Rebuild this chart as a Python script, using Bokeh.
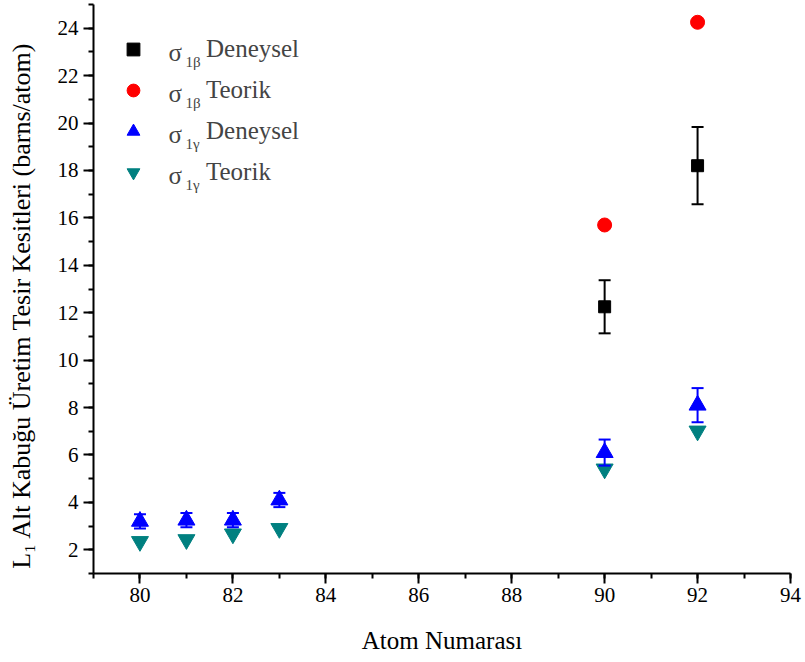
from bokeh.plotting import figure
from bokeh.models import (Range1d, SingleIntervalTicker, ColumnDataSource, Whisker,
                          TeeHead, Legend, LegendItem, Label, InlineStyleSheet)
from bokeh.embed import file_html
from bokeh.resources import INLINE

# ---- data ----
z_beta = [90, 92]
sigma_b_exp = [12.25, 18.2]
sigma_b_exp_err = [1.12, 1.63]
sigma_b_theo = [15.7, 24.25]

z_gamma = [80, 81, 82, 83, 90, 92]
sigma_g_exp = [3.2, 3.25, 3.25, 4.1, 6.1, 8.1]
sigma_g_exp_err = [0.3, 0.3, 0.3, 0.3, 0.55, 0.72]
sigma_g_theo = [2.35, 2.43, 2.67, 2.9, 5.41, 7.01]

legend_words = ["Deneysel", "Teorik", "Deneysel", "Teorik"]
legend_subs = ["1β", "1β", "1γ", "1γ"]
x_title = "Atom Numarası"
y_title = "L₁ Alt Kabuğu Üretim Tesir Kesitleri (barns/atom)"

FONT = "Liberation Serif"

css = InlineStyleSheet(css="svg text { font-family: 'Liberation Serif', serif !important; }")

p = figure(width=805, height=662, output_backend="svg", toolbar_location=None,
           x_range=Range1d(79, 94), y_range=Range1d(1, 25),
           min_border_left=93, min_border_right=15, min_border_top=4, min_border_bottom=89,
           stylesheets=[css])
p.outline_line_color = None
p.grid.visible = False
p.background_fill_color = "white"
p.border_fill_color = "white"

xa = p.xaxis[0]
ya = p.yaxis[0]
xa.ticker = SingleIntervalTicker(interval=2, num_minor_ticks=2)
ya.ticker = SingleIntervalTicker(interval=2, num_minor_ticks=2)
for ax in (xa, ya):
    ax.axis_line_width = 2
    ax.axis_line_color = "black"
    ax.major_tick_line_width = 2
    ax.minor_tick_line_width = 2
    ax.major_tick_line_color = "black"
    ax.minor_tick_line_color = "black"
    ax.major_tick_out = 10
    ax.major_tick_in = 0
    ax.minor_tick_out = 5
    ax.minor_tick_in = 0
    ax.major_label_text_color = "black"
    ax.major_label_text_font = FONT
    ax.major_label_text_font_size = "21px"
    ax.axis_label_text_font = FONT
    ax.axis_label_text_font_style = "normal"
    ax.axis_label_text_color = "black"
xa.major_label_standoff = 4
ya.major_label_standoff = 5

xa.axis_label = x_title
xa.axis_label_text_font_size = "25px"
xa.axis_label_standoff = 22

ya.axis_label = y_title + "\u00a0" * 5
ya.axis_label_text_font_size = "26px"
ya.axis_label_standoff = 19

# ---- glyphs ----
src_b = ColumnDataSource(dict(x=z_beta, y=sigma_b_exp,
                              lo=[v - e for v, e in zip(sigma_b_exp, sigma_b_exp_err)],
                              hi=[v + e for v, e in zip(sigma_b_exp, sigma_b_exp_err)]))
src_bt = ColumnDataSource(dict(x=z_beta, y=sigma_b_theo))
src_g = ColumnDataSource(dict(x=z_gamma, y=sigma_g_exp,
                              lo=[v - e for v, e in zip(sigma_g_exp, sigma_g_exp_err)],
                              hi=[v + e for v, e in zip(sigma_g_exp, sigma_g_exp_err)]))
src_gt = ColumnDataSource(dict(x=z_gamma, y=sigma_g_theo))

r_gt = p.scatter("x", "y", source=src_gt, marker="inverted_triangle", size=17,
                 fill_color="#008080", line_color="#008080")
r_g = p.scatter("x", "y", source=src_g, marker="triangle", size=17,
                fill_color="#0000FF", line_color="#0000FF")
r_bt = p.scatter("x", "y", source=src_bt, marker="circle", size=14,
                 fill_color="#FF0000", line_color="#FF0000")
r_b = p.scatter("x", "y", source=src_b, marker="square", size=12,
                fill_color="black", line_color="black")

wb = Whisker(source=src_b, base="x", upper="hi", lower="lo", dimension="height",
             line_color="black", line_width=2, level="annotation",
             upper_head=TeeHead(size=12, line_color="black", line_width=2),
             lower_head=TeeHead(size=12, line_color="black", line_width=2))
wg = Whisker(source=src_g, base="x", upper="hi", lower="lo", dimension="height",
             line_color="#0000FF", line_width=2, level="annotation",
             upper_head=TeeHead(size=12, line_color="#0000FF", line_width=2),
             lower_head=TeeHead(size=12, line_color="#0000FF", line_width=2))
p.add_layout(wb)
p.add_layout(wg)

# ---- legend ----
renderers = [r_b, r_bt, r_g, r_gt]
items = [LegendItem(label=w, renderers=[r]) for w, r in zip(legend_words, renderers)]
legend = Legend(items=items, location=(24, 385), padding=0, margin=0, spacing=9,
                glyph_width=32, glyph_height=32, label_height=32, label_standoff=57,
                label_text_font=FONT, label_text_font_size="25px",
                border_line_color=None, background_fill_alpha=0)
p.add_layout(legend)

for i, s in enumerate(legend_subs):
    p.add_layout(Label(x=75, y=521 - 41 * i, x_units="screen", y_units="screen",
                       text="σ", text_font=FONT, text_font_size="25px",
                       text_baseline="middle", text_align="left"))
    p.add_layout(Label(x=92, y=512 - 41 * i, x_units="screen", y_units="screen",
                       text=s, text_font=FONT, text_font_size="15px",
                       text_baseline="middle", text_align="left"))

open("out.html", "w").write(file_html(p, INLINE))
